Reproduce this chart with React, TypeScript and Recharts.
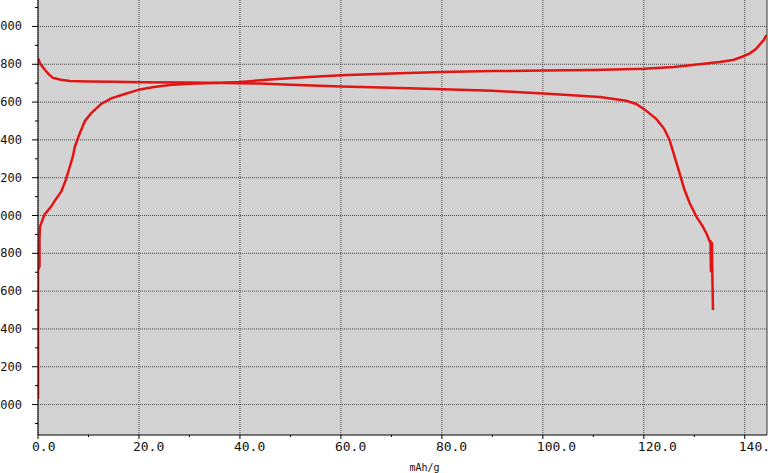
import React from "react";
import {
  LineChart,
  Line,
  XAxis,
  YAxis,
  CartesianGrid,
  ReferenceLine,
} from "recharts";

// capacity (mAh/g) and voltage (V)
const chargeCap = [
  0, 0, 0, 0, 0.3, 0.3, 0.4, 1.25, 2.6, 3.5, 4.6, 5.5, 6.3, 6.9, 7.3, 8.2, 9.3,
  10.5, 12.5, 14.5, 16.9, 20.2, 23, 26.1, 30, 35, 40, 46, 52, 60, 70, 80, 90,
  100, 110, 120, 126, 131, 135, 137.7, 139.5, 141, 142.2, 143, 143.8, 144.3,
];
const chargeVolt = [
  2.03, 2.3, 2.6, 2.712, 2.73, 2.88, 2.941, 3.003, 3.047, 3.085, 3.126, 3.188,
  3.258, 3.311, 3.364, 3.43, 3.5, 3.54, 3.59, 3.62, 3.64, 3.667, 3.68, 3.69,
  3.697, 3.701, 3.706, 3.72, 3.73, 3.742, 3.751, 3.759, 3.764, 3.767, 3.77,
  3.776, 3.786, 3.8, 3.812, 3.823, 3.84, 3.858, 3.88, 3.905, 3.93, 3.955,
];

const dischargeCap = [
  0, 0.5, 1.4, 2.2, 3.0, 4.5, 6.3, 10, 15, 20.2, 30, 40, 44, 50, 60.1, 70, 80.2,
  90, 95.4, 100.1, 105, 111.3, 116.5, 118.5, 120.2, 122.5, 124, 125.1, 126,
  127.1, 128, 129.1, 130.5, 131.7, 132.5, 133.1, 133.2, 133.3, 133.5, 133.6,
  133.7,
];
const dischargeVolt = [
  3.832, 3.8, 3.77, 3.745, 3.728, 3.718, 3.712, 3.709, 3.707, 3.705, 3.703, 3.7,
  3.698, 3.692, 3.683, 3.676, 3.668, 3.66, 3.652, 3.645, 3.638, 3.627, 3.607,
  3.59, 3.56, 3.51, 3.46, 3.4, 3.32, 3.223, 3.14, 3.065, 2.99, 2.941, 2.9,
  2.86, 2.87, 2.7, 2.86, 2.65, 2.5,
];

const xMajorTicks = [0, 20, 40, 60, 80, 100, 120, 140];
const xMinorTicks = [10, 30, 50, 70, 90, 110, 130];
const yMajorTicks = [2.0, 2.2, 2.4, 2.6, 2.8, 3.0, 3.2, 3.4, 3.6, 3.8, 4.0];
const yMinorTicks = [1.9, 2.1, 2.3, 2.5, 2.7, 2.9, 3.1, 3.3, 3.5, 3.7, 3.9, 4.1];

const chargeData = chargeCap.map((c, i) => ({ cap: c, v: chargeVolt[i] }));
const dischargeData = dischargeCap.map((c, i) => ({ cap: c, v: dischargeVolt[i] }));

const isMajor = (list: number[], v: number) =>
  list.some((m) => Math.abs(m - v) < 1e-6);

const XTick = (props: any) => {
  const { x, y, payload } = props;
  const major = isMajor(xMajorTicks, payload.value);
  return (
    <g>
      <line x1={x} x2={x} y1={y} y2={y + (major ? 4 : 2)} stroke="#000" />
      {major && (
        <text
          x={x - 6}
          y={y + 16}
          textAnchor="start"
          fontFamily="DejaVu Sans Mono"
          fontSize={13}
          fill="#111"
        >
          {payload.value.toFixed(1)}
        </text>
      )}
    </g>
  );
};

const YTick = (props: any) => {
  const { x, y, payload } = props;
  const major = isMajor(yMajorTicks, payload.value);
  return (
    <g>
      <line x1={x - (major ? 6 : 3)} x2={x} y1={y} y2={y} stroke="#000" />
      {major && (
        <text
          x={22}
          y={y + 4}
          textAnchor="end"
          fontFamily="DejaVu Sans Mono"
          fontSize={12}
          fill="#111"
        >
          {payload.value.toFixed(3)}
        </text>
      )}
    </g>
  );
};

export default function App() {
  return (
    <div style={{ position: "absolute", left: 0, top: 0, width: 768, height: 473, background: "#fff" }}>
      <LineChart
        width={768}
        height={473}
        margin={{ top: 0, right: 1, bottom: 0, left: 0 }}
      >
        <CartesianGrid
          fill="#d3d3d3"
          stroke="#4a4a4a"
          strokeDasharray="1 1"
          horizontalValues={yMajorTicks}
          verticalValues={xMajorTicks}
        />
        <XAxis
          type="number"
          dataKey="cap"
          domain={[0, 144.4]}
          ticks={[...xMajorTicks, ...xMinorTicks].sort((a, b) => a - b)}
          interval={0}
          tick={<XTick />}
          tickLine={false}
          tickSize={0}
          tickMargin={0}
          height={38}
          axisLine={{ stroke: "#000" }}
          allowDataOverflow
          label={{
            value: "mAh/g",
            position: "insideBottom",
            offset: 2,
            dx: 22,
            style: { fontFamily: "DejaVu Sans Mono", fontSize: 10, fill: "#111" },
          }}
        />
        <YAxis
          type="number"
          domain={[1.839, 4.14]}
          ticks={[...yMajorTicks, ...yMinorTicks].sort((a, b) => a - b)}
          interval={0}
          tick={<YTick />}
          tickLine={false}
          tickSize={0}
          tickMargin={0}
          width={38}
          axisLine={{ stroke: "#000" }}
          allowDataOverflow
        />
        <ReferenceLine x={144.4} stroke="#333" />
        <Line
          data={chargeData}
          dataKey="v"
          type="linear"
          stroke="#e31414"
          strokeWidth={2.5}
          dot={false}
          isAnimationActive={false}
        />
        <Line
          data={dischargeData}
          dataKey="v"
          type="linear"
          stroke="#e31414"
          strokeWidth={2.5}
          dot={false}
          isAnimationActive={false}
        />
      </LineChart>
    </div>
  );
}
